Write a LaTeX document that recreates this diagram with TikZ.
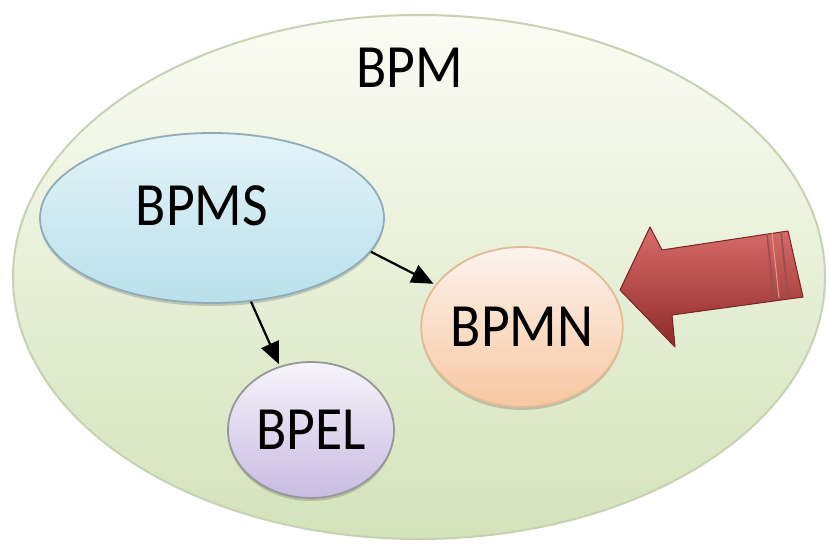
\documentclass[tikz,border=0pt]{standalone}
\usepackage{fontspec}
\setmainfont{Carlito}
\usetikzlibrary{arrows.meta,shapes.geometric,shadows}

\definecolor{outerTop}{HTML}{FBFCF4}
\definecolor{outerBot}{HTML}{D3E3BA}
\definecolor{outerLine}{HTML}{C7D2B2}
\definecolor{msTop}{HTML}{E4F3F8}
\definecolor{msBot}{HTML}{B9E0EC}
\definecolor{msLine}{HTML}{8FADB8}
\definecolor{mnTop}{HTML}{FDF3EE}
\definecolor{mnBot}{HTML}{F7C7A0}
\definecolor{mnLine}{HTML}{E2BA95}
\definecolor{elTop}{HTML}{F6F4FB}
\definecolor{elBot}{HTML}{C9BBE2}
\definecolor{elLine}{HTML}{979797}
\definecolor{redTop}{HTML}{D86C69}
\definecolor{redMid}{HTML}{C44D4A}
\definecolor{redBot}{HTML}{8E2A2A}
\definecolor{redLine}{HTML}{7A2424}

% tall, slightly stretched label text
\newcommand{\tallText}[1]{\scalebox{1.05}[1.16]{#1}}

\tikzset{
  bubble/.style={ellipse, inner sep=0pt, line width=1.8pt,
    font=\fontsize{53}{60}\selectfont},
  softshadow/.style={drop shadow={shadow xshift=0pt, shadow yshift=-3pt,
    opacity=0.25, fill=black!70}},
  link/.style={line width=2.2pt, black,
    -{Triangle[length=22pt,width=19pt]}, shorten >=2pt}
}

\begin{document}
\begin{tikzpicture}[x=1pt,y=-1pt]
  \useasboundingbox (0,0) rectangle (829,545);
  \fill[white] (0,0) rectangle (829,545);

  % outer domain
  \node[bubble, draw=outerLine, line width=2pt, top color=outerTop,
        bottom color=outerBot, minimum width=812pt, minimum height=524pt]
        (bpm) at (419,277) {};
  \node[font=\fontsize{53}{60}\selectfont] (bpmlabel) at (410,68) {\tallText{BPM}};

  % inner bubbles
  \node[bubble, softshadow, draw=msLine, top color=msTop, bottom color=msBot,
        minimum width=344pt, minimum height=170pt] (bpms) at (212,218) {};
  \node[font=\fontsize{53}{60}\selectfont] (bpmstext) at (202,206) {\tallText{BPMS}};

  \node[bubble, softshadow, draw=mnLine, top color=mnTop, bottom color=mnBot,
        minimum width=194pt, minimum height=160pt] (bpmn) at (522,327)
        {\tallText{BPMN}};

  \node[bubble, softshadow, draw=elLine, top color=elTop, bottom color=elBot,
        minimum width=166pt, minimum height=136pt] (bpel) at (311,430)
        {\tallText{BPEL}};

  % connectors
  \draw[link] (bpms.-12.5) -- (bpmn.154);
  \draw[link] (bpms.-65) -- (bpel.116);

  % incoming block arrow
  \coordinate (tip) at (620,290);
  \fill[top color=redTop, middle color=redMid, bottom color=redBot,
        draw=redLine, line width=1pt, line join=round]
    (tip) -- (650,227) -- (662,250) -- (788,231) -- (803,297)
    -- (672,315) -- (675,347) -- cycle;
  \draw[redLine!80, line width=1.6pt] (767,234) -- (774,299);
  \draw[redLine!80, line width=1.6pt] (781,232) -- (788,298);
  \draw[redTop!70!white, line width=1pt] (772,233) -- (779,298);
\end{tikzpicture}
\end{document}
